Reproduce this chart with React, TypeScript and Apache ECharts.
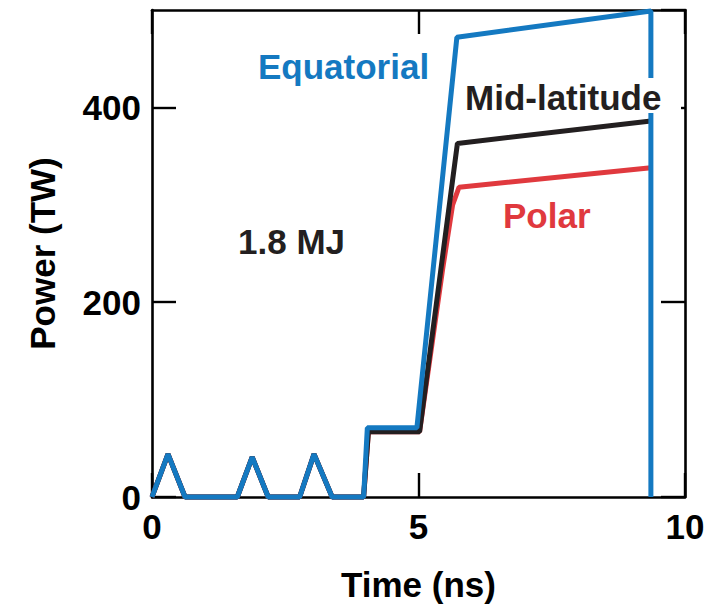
import React, { useEffect, useRef } from "react";
import * as echarts from "echarts";

const xTicks = [0, 5, 10];
const yTicks = [0, 200, 400];

const pulseTime = [0, 0.3, 0.62, 1.6, 1.88, 2.18, 2.77, 3.04, 3.38, 3.97];
const pulsePower = [0, 44, 0, 0, 41, 0, 0, 44, 0, 0];

const equatorialTime = [...pulseTime, 4.04, 4.97, 5.72, 9.36, 9.36];
const equatorialPower = [...pulsePower, 71, 71, 472, 499, 0];

const midTime = [...pulseTime, 4.06, 5.02, 5.73, 9.36];
const midPower = [...pulsePower, 67, 67, 363, 386];

const polarTime = [...pulseTime, 4.06, 5.02, 5.45, 5.64, 5.76, 9.36];
const polarPower = [...pulsePower, 67, 67, 233, 300, 318, 338];

const BLUE = "#1479c1";
const RED = "#e0393e";
const BLACK = "#231f20";
const FONT = "'Liberation Sans', Arial, Helvetica, sans-serif";

const zip = (t: number[], v: number[]) => t.map((x, i) => [x, v[i]]);

export default function App() {
  const ref = useRef<HTMLDivElement>(null);
  useEffect(() => {
    if (!ref.current) return;
    const chart = echarts.init(ref.current, null, { renderer: "svg" });
    const axisLine = { show: true, onZero: false, lineStyle: { color: "#000", width: 2.6 } };
    const tick = { show: true, inside: true, length: 24, lineStyle: { color: "#000", width: 2.4 } };
    const label = { fontFamily: FONT, fontWeight: "bold" as const, fontSize: 35, color: "#000" };
    chart.setOption({
      animation: false,
      backgroundColor: "#fff",
      grid: { left: 152, right: 23, top: 10, bottom: 113, containLabel: false, outerBoundsMode: "none" },
      xAxis: [
        {
          type: "value", min: xTicks[0], max: xTicks[2], interval: xTicks[1] - xTicks[0], position: "bottom",
          axisLine, axisTick: tick, splitLine: { show: false },
          axisLabel: { ...label, margin: 12 },
          name: "Time (ns)", nameLocation: "middle", nameGap: 70,
          nameTextStyle: { ...label },
        },
        {
          type: "value", min: xTicks[0], max: xTicks[2], interval: xTicks[1] - xTicks[0], position: "top",
          axisLine, axisTick: tick, splitLine: { show: false }, axisLabel: { show: false },
        },
      ],
      yAxis: [
        {
          type: "value", min: yTicks[0], max: 500, interval: yTicks[1] - yTicks[0], position: "left",
          axisLine, axisTick: tick, splitLine: { show: false },
          axisLabel: { ...label, margin: 11, showMaxLabel: false },
          name: "Power (TW)", nameLocation: "middle", nameGap: 92,
          nameTextStyle: { ...label },
        },
        {
          type: "value", min: yTicks[0], max: 500, interval: yTicks[1] - yTicks[0], position: "right",
          axisLine, axisTick: tick, splitLine: { show: false }, axisLabel: { show: false },
        },
      ],
      series: [
        {
          type: "line", data: zip(polarTime, polarPower), showSymbol: false, clip: false,
          lineStyle: { color: RED, width: 5 }, z: 2,
        },
        {
          type: "line", data: zip(midTime, midPower), showSymbol: false, clip: false,
          lineStyle: { color: BLACK, width: 5 }, z: 3,
        },
        {
          type: "line", data: zip(equatorialTime, equatorialPower), showSymbol: false, clip: false,
          lineStyle: { color: BLUE, width: 5 }, z: 4,
        },
      ],
      graphic: [
        { type: "rect", z: 100, shape: { x: 460, y: 78, width: 221, height: 35 }, style: { fill: "#fff" } },
        { type: "text", z: 101, style: { text: "Equatorial", x: 258, y: 66, font: `bold 35px ${FONT}`, fill: BLUE, textVerticalAlign: "middle" } },
        { type: "text", z: 101, style: { text: "Mid-latitude", x: 465, y: 97, font: `bold 35px ${FONT}`, fill: BLACK, textVerticalAlign: "middle" } },
        { type: "text", z: 101, style: { text: "Polar", x: 503, y: 215, font: `bold 35px ${FONT}`, fill: RED, textVerticalAlign: "middle" } },
        { type: "text", z: 101, style: { text: "1.8 MJ", x: 238, y: 241, font: `bold 35px ${FONT}`, fill: BLACK, textVerticalAlign: "middle" } },
      ],
    });
    return () => chart.dispose();
  }, []);
  return <div ref={ref} style={{ width: 708, height: 610, position: "absolute", left: 0, top: 0 }} />;
}
